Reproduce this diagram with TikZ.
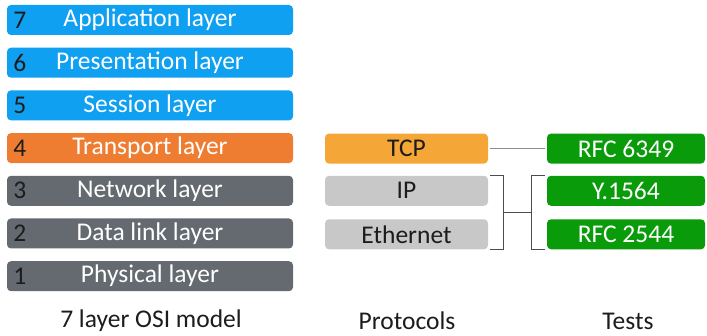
\documentclass[tikz,border=0pt]{standalone}
\usepackage{fontspec}
\setmainfont{Carlito}
\usetikzlibrary{calc}
\definecolor{lblue}{HTML}{0FA0F2}
\definecolor{lorange}{HTML}{EE7D31}
\definecolor{lgray}{HTML}{646A70}
\definecolor{pgray}{HTML}{C8C8C8}
\definecolor{porange}{HTML}{F4A637}
\definecolor{tgreen}{HTML}{0A9B0A}
\definecolor{numcol}{HTML}{1C1C1C}
\begin{document}
\begin{tikzpicture}[x=1pt,y=-1pt,
  txt/.style={font=\fontsize{25.5}{27}\selectfont},
  layerbox/.style={txt,draw=none,rounded corners=4pt,minimum width=286pt,minimum height=30pt,inner sep=0pt,text=white},
  protobox/.style={txt,draw=none,rounded corners=4pt,minimum width=163pt,minimum height=30pt,inner sep=0pt,text=numcol},
  testbox/.style={txt,draw=none,rounded corners=4pt,fill=tgreen,minimum width=158pt,minimum height=30pt,inner sep=0pt,text=white},
  numlab/.style={txt,text=numcol,inner sep=0pt},
  caption/.style={txt,text=numcol,inner sep=0pt},
  brack/.style={draw=black!70,line width=1.3pt}
]
\useasboundingbox (0,0) rectangle (707,336);
% layers
\node[layerbox,fill=lblue] (l7) at (150,20) {Application layer};
\node[layerbox,fill=lblue] (l6) at (150,62.7) {Presentation layer};
\node[layerbox,fill=lblue] (l5) at (150,105.4) {Session layer};
\node[layerbox,fill=lorange] (l4) at (150,148.1) {Transport layer};
\node[layerbox,fill=lgray] (l3) at (150,190.8) {Network layer};
\node[layerbox,fill=lgray] (l2) at (150,233.5) {Data link layer};
\node[layerbox,fill=lgray] (l1) at (150,276.2) {Physical layer};
\foreach \n/\r in {7/l7,6/l6,5/l5,4/l4,3/l3,2/l2,1/l1}{
  \node[numlab] (n\n) at ([xshift=13pt]\r.west) {\n};
}
% protocols
\node[protobox,fill=porange] (tcp) at (406.5,148.6) {TCP};
\node[protobox,fill=pgray] (ip) at (406.5,190.8) {IP};
\node[protobox,fill=pgray] (eth) at (406.5,234.3) {Ethernet};
% tests
\node[testbox] (rfc6349) at (626,148.6) {RFC 6349};
\node[testbox] (y1564) at (626,190.8) {Y.1564};
\node[testbox] (rfc2544) at (626,234.3) {RFC 2544};
% connectors
\draw[draw=black!45,line width=1.8pt] ([xshift=2pt]tcp.east) -- ([xshift=-2pt]rfc6349.west);
\coordinate (bt) at ([xshift=2pt]ip.north east);
\coordinate (bb) at ([xshift=2pt]eth.south east);
\coordinate (ct) at ([xshift=-2pt]y1564.north west);
\coordinate (cb) at ([xshift=-2pt]rfc2544.south west);
\draw[brack] (bt) -- ++(13,0) coordinate (bt2) -- (bt2 |- bb) -- (bb);
\draw[brack] (ct) -- ++(-13,0) coordinate (ct2) -- (ct2 |- cb) -- (cb);
\coordinate (mid) at ($(ip.center)!0.5!(eth.center)$);
\draw[brack] (bt2 |- mid) -- (ct2 |- mid);
% captions
\node[caption] (c1) at (151,321) {7 layer OSI model};
\node[caption] (c2) at (407,321) {Protocols};
\node[caption] (c3) at (628,321) {Tests};
\end{tikzpicture}
\end{document}
